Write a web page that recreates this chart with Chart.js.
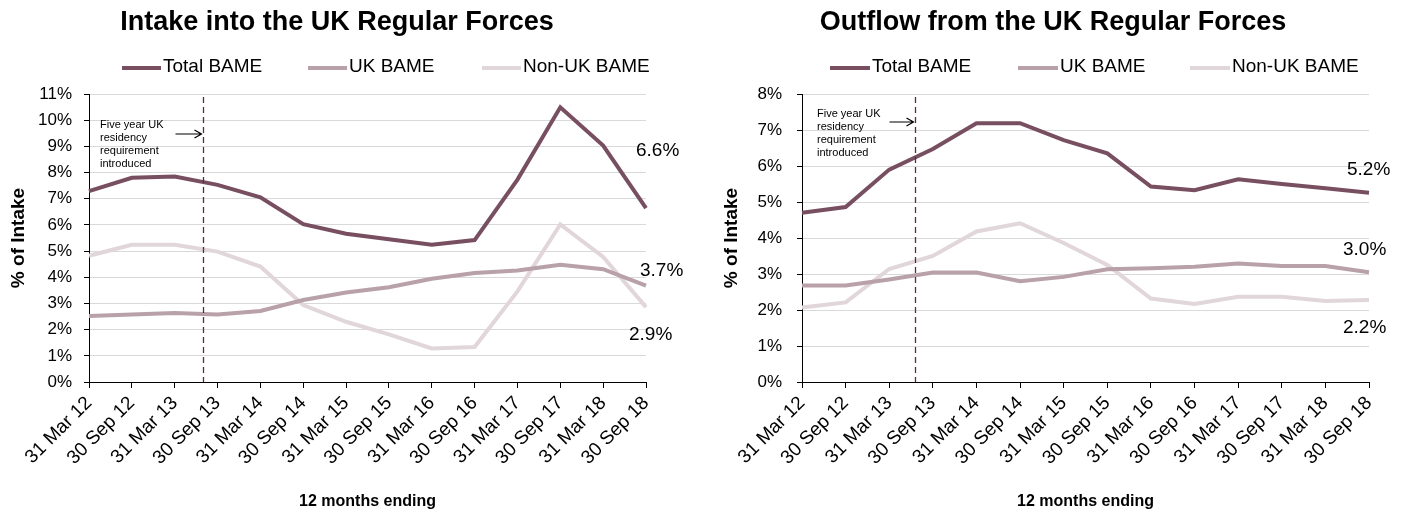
<!DOCTYPE html>
<html><head><meta charset="utf-8">
<script src="https://cdn.jsdelivr.net/npm/chart.js@4.4.1/dist/chart.umd.min.js"></script>
<style>
html,body{margin:0;padding:0;background:#fff;}
#wrap{position:relative;width:1408px;height:512px;overflow:hidden;}
.box{position:absolute;top:0;width:704px;height:512px;}
canvas{display:block;}
</style></head><body>
<div id="wrap">
<div class="box" style="left:0"><canvas id="c1" width="704" height="512"></canvas></div>
<div class="box" style="left:704px"><canvas id="c2" width="704" height="512"></canvas></div>
</div>
<script>
// ---- data ----
const categories = ['31 Mar 12','30 Sep 12','31 Mar 13','30 Sep 13','31 Mar 14','30 Sep 14','31 Mar 15','30 Sep 15','31 Mar 16','30 Sep 16','31 Mar 17','30 Sep 17','31 Mar 18','30 Sep 18'];
const seriesNames = ['Total BAME','UK BAME','Non-UK BAME'];

const intakeTotal = [7.29, 7.80, 7.85, 7.53, 7.05, 6.03, 5.66, 5.45, 5.24, 5.42, 7.73, 10.49, 9.03, 6.64];
const intakeUK    = [2.52, 2.58, 2.64, 2.58, 2.71, 3.13, 3.42, 3.62, 3.94, 4.16, 4.26, 4.48, 4.31, 3.68];
const intakeNonUK = [4.82, 5.24, 5.24, 4.98, 4.41, 2.94, 2.30, 1.82, 1.28, 1.34, 3.46, 6.02, 4.78, 2.86];
const intakeEndLabels = ['6.6%','3.7%','2.9%'];

const outflowTotal = [4.70, 4.86, 5.90, 6.47, 7.19, 7.19, 6.72, 6.35, 5.43, 5.33, 5.63, 5.50, 5.38, 5.26];
const outflowUK    = [2.68, 2.68, 2.85, 3.04, 3.04, 2.80, 2.92, 3.13, 3.16, 3.20, 3.29, 3.22, 3.22, 3.05];
const outflowNonUK = [2.07, 2.21, 3.14, 3.50, 4.18, 4.41, 3.86, 3.25, 2.32, 2.17, 2.37, 2.37, 2.25, 2.28];
const outflowEndLabels = ['5.2%','3.0%','2.2%'];

const noteLines = ['Five year UK','residency','requirement','introduced'];

// ---- style ----
const FONT = '"Liberation Sans", Arial, sans-serif';
const COLORS = ['#784f60','#b9a1a9','#e1d6d9'];
Chart.defaults.font.family = FONT;
Chart.defaults.color = '#000';

const decor = {
  id: 'decor',
  afterDatasetsDraw(chart, args, o) {
    const ctx = chart.ctx, xs = chart.scales.x, ys = chart.scales.y, a = chart.chartArea;
    ctx.save();
    // marker dashed line
    const mx = Math.round(xs.getPixelForValue(o.markerIndex)) + 0.5;
    ctx.strokeStyle = '#5a2a42'; ctx.lineWidth = 1.3; ctx.setLineDash([6,4]);
    ctx.beginPath(); ctx.moveTo(mx, a.top + 3); ctx.lineTo(mx, a.bottom); ctx.stroke();
    ctx.setLineDash([]);
    // note
    ctx.fillStyle = '#000'; ctx.font = '11px ' + FONT; ctx.textAlign = 'left'; ctx.textBaseline = 'middle';
    noteLines.forEach((t, i) => ctx.fillText(t, a.left + o.noteDx, a.top + o.noteDy + i * 13));
    // arrow
    const ay = a.top + o.arrowDy, ax1 = mx - 2, ax0 = ax1 - o.arrowLen;
    ctx.strokeStyle = '#000'; ctx.lineWidth = 1.2;
    ctx.beginPath(); ctx.moveTo(ax0, ay); ctx.lineTo(ax1, ay);
    ctx.moveTo(ax1 - 7, ay - 4); ctx.lineTo(ax1, ay); ctx.lineTo(ax1 - 7, ay + 4); ctx.stroke();
    // end labels
    ctx.font = '19px ' + FONT; ctx.fillStyle = '#000';
    chart.data.datasets.forEach((ds, i) => {
      const n = ds.data.length - 1;
      const px = xs.getPixelForValue(n), py = ys.getPixelForValue(ds.data[n]);
      ctx.fillText(o.endLabels[i], px + o.endDx[i], py + o.endDy[i]);
    });
    ctx.restore();
  },
  afterDraw(chart, args, o) {
    const ctx = chart.ctx;
    ctx.save();
    ctx.fillStyle = '#000';
    ctx.font = 'bold 27px ' + FONT; ctx.textAlign = 'center'; ctx.textBaseline = 'alphabetic';
    ctx.fillText(o.title, o.titleX, 30);
    ctx.font = '19px ' + FONT; ctx.textAlign = 'left'; ctx.textBaseline = 'middle';
    const ly = 67;
    chart.data.datasets.forEach((ds, i) => {
      const s = o.legendSamples[i];
      ctx.strokeStyle = ds.borderColor; ctx.lineWidth = 4;
      ctx.beginPath(); ctx.moveTo(s[0], ly + 1); ctx.lineTo(s[1], ly + 1); ctx.stroke();
      ctx.fillText(ds.label, s[1] + 2, ly);
    });
    ctx.restore();
  }
};

function makeChart(id, series, yMax, cfg) {
  return new Chart(document.getElementById(id), {
    type: 'line',
    data: {
      labels: categories,
      datasets: series.map((d, i) => ({
        label: seriesNames[i], data: d, borderColor: COLORS[i], backgroundColor: COLORS[i],
        borderWidth: 4, pointRadius: 0, tension: 0, fill: false
      }))
    },
    options: {
      responsive: false, animation: false, devicePixelRatio: 1,
      layout: { padding: { top: 94, left: 0, right: cfg.padRight, bottom: 0 } },
      plugins: {
        legend: { display: false }, title: { display: false }, tooltip: { enabled: false },
        decor: cfg.decor
      },
      scales: {
        x: {
          ticks: { color: '#000', font: { size: 19 }, minRotation: 45, maxRotation: 45, autoSkip: false, padding: 4 },
          grid: { display: true, drawOnChartArea: false, tickColor: '#000', tickLength: 6 },
          border: { color: '#000', width: 1 },
          title: { display: true, text: '12 months ending', color: '#000', font: { size: 16, weight: 'bold' }, padding: { top: 0, bottom: 1 } },
          afterFit: s => { s.height = 130; }
        },
        y: {
          min: 0, max: yMax,
          ticks: { stepSize: 1, color: '#000', font: { size: 17 }, padding: cfg.tickPad, callback: v => v + '%' },
          grid: { color: '#d9d9d9', lineWidth: 1, tickColor: '#000', tickLength: 5 },
          border: { color: '#000', width: 1 },
          title: { display: true, text: '% of Intake', color: '#000', font: { size: 19, weight: 'bold' }, padding: { top: cfg.yTitlePad, bottom: 0 } },
          afterFit: s => { s.width = cfg.yWidth; }
        }
      }
    },
    plugins: [decor]
  });
}

makeChart('c1', [intakeTotal, intakeUK, intakeNonUK], 11, {
  padRight: 58, yWidth: 89, tickPad: 12, yTitlePad: 7,
  decor: {
    title: 'Intake into the UK Regular Forces', titleX: 337,
    legendSamples: [[122,161],[308,347],[482,521]],
    markerIndex: 2.65, noteDx: 11, noteDy: 31, arrowDy: 40, arrowLen: 26,
    endLabels: intakeEndLabels, endDx: [-10, -6, -17], endDy: [-57, -15, 28]
  }
});
makeChart('c2', [outflowTotal, outflowUK, outflowNonUK], 8, {
  padRight: 39, yWidth: 98, tickPad: 15, yTitlePad: 16,
  decor: {
    title: 'Outflow from the UK Regular Forces', titleX: 349,
    legendSamples: [[126,166],[314,354],[486,526]],
    markerIndex: 2.58, noteDx: 15, noteDy: 20, arrowDy: 28, arrowLen: 24,
    endLabels: outflowEndLabels, endDx: [-22, -26, -26], endDy: [-23, -22, 28]
  }
});
</script>
</body></html>
